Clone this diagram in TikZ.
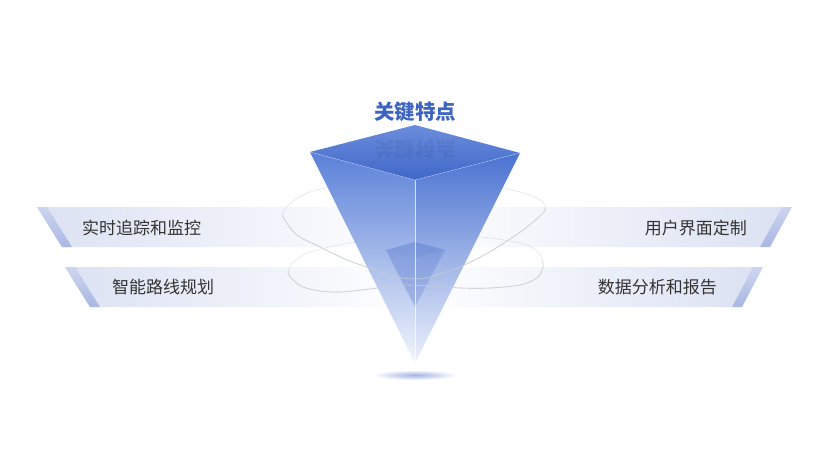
\documentclass[tikz,border=0pt]{standalone}
\usepackage{fontspec}
\newfontfamily\cjk{Noto Sans CJK SC}
\definecolor{bandc}{HTML}{DCE2F3}
\definecolor{accA}{HTML}{CDD5EF}
\definecolor{accB}{HTML}{A9B7E2}
\definecolor{txt}{HTML}{333333}
\definecolor{titlec}{HTML}{3D63C3}
\definecolor{ringc}{HTML}{C9CCD3}
\definecolor{lfTop}{HTML}{5A80D8}
\definecolor{lfMid}{HTML}{92ACE7}
\definecolor{lfBot}{HTML}{F2F5FC}
\definecolor{rfTop}{HTML}{4A72D2}
\definecolor{rfMid}{HTML}{84A0E3}
\definecolor{rfBot}{HTML}{EEF2FB}
\definecolor{tfTop}{HTML}{6B8DDC}
\definecolor{tfBot}{HTML}{3F67C8}
\definecolor{innerc}{HTML}{3B63C4}
\definecolor{shadc}{HTML}{A3B3E3}
\begin{document}
\begin{tikzpicture}[x=1pt,y=-1pt,
  lbl/.style={font=\cjk\fontsize{17}{20}\selectfont, text=txt, inner sep=0pt},
  ttl/.style={font=\cjk\bfseries\fontsize{20.5}{24}\selectfont, text=titlec, inner sep=0pt},
  ringline/.style={draw=ringc, line width=0.6pt},
  accentbar/.style={top color=accA, bottom color=accB, draw=none},
]
\useasboundingbox (0,0) rectangle (825,460);
\fill[white] (0,0) rectangle (825,460);

% bands
\shade[left color=bandc, right color=white] (37,207) -- (415,207) -- (415,247) -- (62,247) -- cycle;
\shade[left color=bandc, right color=white] (65,267) -- (415,267) -- (415,307) -- (90,307) -- cycle;
\shade[left color=white, right color=bandc] (415,207) -- (782,207) -- (760,247) -- (415,247) -- cycle;
\shade[left color=white, right color=bandc] (415,267) -- (753,267) -- (732,307) -- (415,307) -- cycle;
% accents
\shade[accentbar] (37,207) -- (47,207) -- (72,247) -- (62,247) -- cycle;
\shade[accentbar] (65,267) -- (75,267) -- (100,307) -- (90,307) -- cycle;
\shade[accentbar] (782,207) -- (792,207) -- (770,247) -- (760,247) -- cycle;
\shade[accentbar] (753,267) -- (763,267) -- (742,307) -- (732,307) -- cycle;

% rings (full, behind pyramid)
\draw[ringline, opacity=0.5] plot[smooth cycle] coordinates {(283,217) (297,235) (320,247) (347,260) (370,268) (397,277) (415,279) (430,277) (460,267) (493,250) (523,230) (543,213) (545,205) (537,198) (520,192) (470,181) (415,177) (360,181) (310,192) (292,202) (285,209)};
\draw[ringline, opacity=0.5] plot[smooth cycle] coordinates {(288,273) (293,280) (303,287) (320,291) (340,292) (370,289) (400,285) (430,286) (460,288) (490,288) (520,285) (537,278) (543,267) (541,256) (533,248) (520,243) (480,237) (415,236) (350,243) (310,252) (296,260) (290,266)};

% pyramid
\shade[top color=lfTop, middle color=lfMid, bottom color=lfBot] (310,152) -- (415,180) -- (415,363) -- cycle;
\shade[top color=rfTop, middle color=rfMid, bottom color=rfBot] (415,180) -- (520,153) -- (415,363) -- cycle;
\shade[top color=tfTop, bottom color=tfBot] (415,125) -- (520,153) -- (415,180) -- (310,152) -- cycle;
\node[ttl, transform shape, yscale=-1, opacity=0.1, text=innerc!60!black] (refl) at (415,149) {关键特点};
\draw[white, opacity=0.35, line width=0.6pt] (310,152) -- (415,180) -- (520,153);

% inner pyramid
\fill[innerc, opacity=0.28] (386,250) -- (415,258) -- (415,307) -- cycle;
\fill[innerc, opacity=0.22] (415,258) -- (445,250) -- (415,307) -- cycle;
\fill[innerc, opacity=0.3] (415,242) -- (445,250) -- (415,258) -- (386,250) -- cycle;
\draw[white, opacity=0.75, line width=0.8pt] (415,180) -- (415,363);

% shadow
\shade[inner color=shadc, outer color=white] (415,375) ellipse (42pt and 5pt);

% rings (front arcs, over pyramid)
\begin{scope}
\clip (270,216) -- (560,207) -- (560,300) -- (270,300) -- cycle;
\draw[ringline] plot[smooth cycle] coordinates {(283,217) (297,235) (320,247) (347,260) (370,268) (397,277) (415,279) (430,277) (460,267) (493,250) (523,230) (543,213) (545,205) (537,198) (520,192) (470,181) (415,177) (360,181) (310,192) (292,202) (285,209)};
\end{scope}
\begin{scope}
\clip (270,272) -- (560,262) -- (560,320) -- (270,320) -- cycle;
\draw[ringline] plot[smooth cycle] coordinates {(288,273) (293,280) (303,287) (320,291) (340,292) (370,289) (400,285) (430,286) (460,288) (490,288) (520,285) (537,278) (543,267) (541,256) (533,248) (520,243) (480,237) (415,236) (350,243) (310,252) (296,260) (290,266)};
\end{scope}

% texts
\node[ttl] (title) at (415,112) {关键特点};
\node[lbl, anchor=west] (t1) at (82,228) {实时追踪和监控};
\node[lbl, anchor=west] (t2) at (112,287) {智能路线规划};
\node[lbl, anchor=east] (t3) at (747,228) {用户界面定制};
\node[lbl, anchor=east] (t4) at (717,287) {数据分析和报告};
\end{tikzpicture}
\end{document}
